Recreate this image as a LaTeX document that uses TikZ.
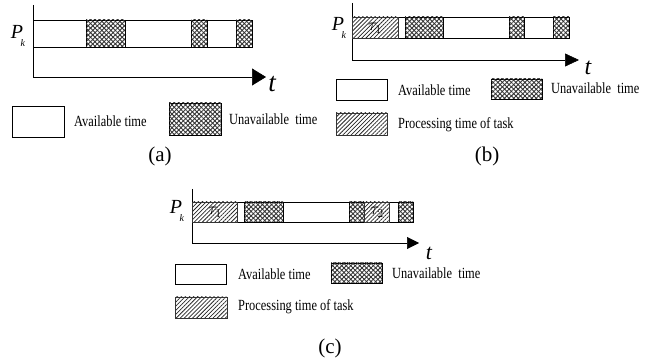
\documentclass[tikz,border=0pt]{standalone}
\usepackage{fontspec}
\setmainfont{Liberation Serif}
\newfontfamily\legendfont[FakeStretch=0.8]{Liberation Serif}
\usetikzlibrary{patterns.meta,arrows.meta}

\tikzset{
  avail/.style={draw=black, line width=0.6pt, fill=white},
  unavail/.style={draw=black, line width=0.6pt,
    pattern={Lines[angle=45,distance=3.2pt,line width=0.9pt]}, pattern color=black!80,
    postaction={pattern={Lines[angle=-45,distance=3.2pt,line width=0.9pt]}, pattern color=black!80}},
  taskbox/.style={draw=black!80, line width=0.6pt,
    pattern={Lines[angle=45,distance=2.9pt,line width=0.75pt]}, pattern color=black!85},
  axisline/.style={line width=0.6pt, black},
  legtext/.style={anchor=west, inner sep=0pt, font=\legendfont\fontsize{15.5}{15.5}\selectfont},
  caption/.style={inner sep=0pt, font=\fontsize{21}{21}\selectfont},
  tlabel/.style={inner sep=0pt, font=\itshape},
  plabel/.style={inner sep=0pt, font=\fontsize{20}{20}\selectfont\itshape},
  tasklabel/.style={inner sep=0pt, font=\fontsize{17}{17}\selectfont},
}
\newcommand{\proclabel}{P\kern-0.12em\raisebox{-0.4em}{\fontsize{10}{10}\selectfont k}}

\begin{document}
\begin{tikzpicture}[x=1pt,y=-1pt]
\useasboundingbox (0,0) rectangle (651,363);

% ---------- (a) ----------
\coordinate (aTop) at (33,5);
\coordinate (aO) at (33,77);
\coordinate (aEnd) at (266,77);
\draw[axisline, -{Triangle[length=14pt,width=17pt]}] (aTop) -- (aO) -- (aEnd);
\draw[avail] (33,20) rectangle (252,47);
\draw[unavail] (86,20) rectangle (125,47);
\draw[unavail] (191,20) rectangle (207,47);
\draw[unavail] (236,20) rectangle (252,47);
\node[plabel] (aP) at (18,36) {\proclabel};
\node[tlabel, font=\fontsize{27}{27}\selectfont\itshape] (aT) at (272,84) {t};

\draw[avail] (12,106) rectangle (64,137);
\node[legtext] (aAv) at (74,121) {Available time};
\draw[unavail] (169,103) rectangle (221,135);
\node[legtext] (aUn) at (229,119) {Unavailable\ \ time};
\node[caption] (aCap) at (160,156) {(a)};

% ---------- (b) ----------
\coordinate (bTop) at (352,3);
\coordinate (bO) at (352,60);
\coordinate (bEnd) at (579,60);
\draw[axisline, -{Triangle[length=14pt,width=13pt]}] (bTop) -- (bO) -- (bEnd);
\draw[avail] (352,17) rectangle (569,38);
\draw[taskbox] (352,17) rectangle (398,38);
\draw[unavail] (405,17) rectangle (443,38);
\draw[unavail] (509,17) rectangle (524,38);
\draw[unavail] (553,17) rectangle (569,38);
\node[tasklabel] (bTau) at (375,28) {$\tau_1$};
\node[plabel] (bP) at (339,28) {\proclabel};
\node[tlabel, font=\fontsize{24}{24}\selectfont\itshape] (bT) at (588,68) {t};

\draw[avail] (336,79) rectangle (387,100);
\node[legtext] (bAv) at (398,90) {Available time};
\draw[unavail] (491,79) rectangle (542,99);
\node[legtext] (bUn) at (551,88) {Unavailable\ \ time};
\draw[taskbox] (336,113) rectangle (387,135);
\node[legtext] (bPr) at (398,125) {Processing time of task};
\node[caption] (bCap) at (487,156) {(b)};

% ---------- (c) ----------
\coordinate (cTop) at (192,189);
\coordinate (cO) at (192,243);
\coordinate (cEnd) at (419,243);
\draw[axisline, -{Triangle[length=12pt,width=12pt]}] (cTop) -- (cO) -- (cEnd);
\draw[avail] (192,202) rectangle (413,222);
\draw[taskbox] (192,202) rectangle (237,222);
\draw[unavail] (244,202) rectangle (283,222);
\draw[unavail] (349,202) rectangle (364,222);
\draw[taskbox] (364,202) rectangle (389,222);
\draw[unavail] (398,202) rectangle (413,222);
\node[tasklabel] (cTau1) at (215,212) {$\tau_1$};
\node[tasklabel] (cTau2) at (377,212) {$\tau_2$};
\node[plabel] (cP) at (177,211) {\proclabel};
\node[tlabel, font=\fontsize{22}{22}\selectfont\itshape] (cT) at (429,253) {t};

\draw[avail] (175,264) rectangle (226,284);
\node[legtext] (cAv) at (238,274) {Available time};
\draw[unavail] (331,263) rectangle (382,283);
\node[legtext] (cUn) at (392,273) {Unavailable\ \ time};
\draw[taskbox] (175,297) rectangle (227,318);
\node[legtext] (cPr) at (238,307) {Processing time of task};
\node[caption] (cCap) at (330,348) {(c)};
\end{tikzpicture}
\end{document}
